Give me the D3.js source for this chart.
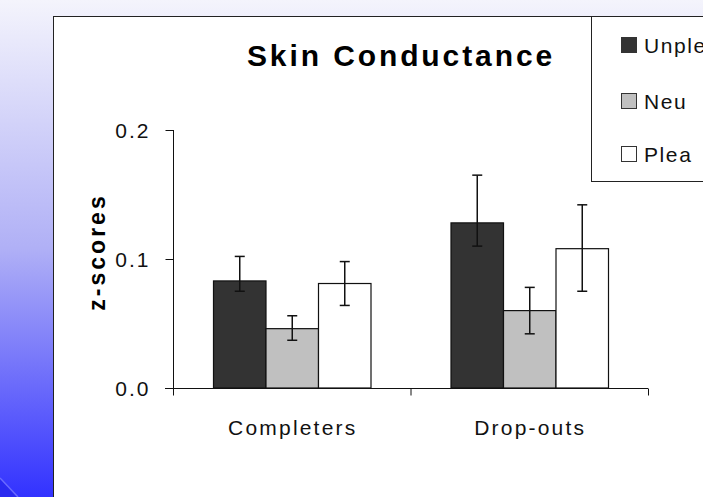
<!DOCTYPE html>
<html><head><meta charset="utf-8">
<script src="https://cdn.jsdelivr.net/npm/d3@7"></script>
<style>html,body{margin:0;padding:0;overflow:hidden;background:#fff}svg{display:block}</style>
</head><body>
<svg id="c" width="703" height="497"></svg>
<script>
const categories = ["Completers", "Drop-outs"];
const seriesNames = ["Unpleasant", "Neu", "Plea"];
const unpleasant = [0.083, 0.128];
const neutral = [0.046, 0.060];
const pleasant = [0.081, 0.108];
const unpleasantLow = [0.075, 0.110];
const unpleasantHigh = [0.102, 0.165];
const neutralLow = [0.037, 0.042];
const neutralHigh = [0.056, 0.078];
const pleasantLow = [0.064, 0.075];
const pleasantHigh = [0.098, 0.142];
const yTicks = [0, 0.1, 0.2];
const title = "Skin Conductance";
const yLabel = "z-scores";

const colors = ["#333333", "#c0c0c0", "#ffffff"];
const values = [unpleasant, neutral, pleasant];
const lows = [unpleasantLow, neutralLow, pleasantLow];
const highs = [unpleasantHigh, neutralHigh, pleasantHigh];

const svg = d3.select("#c");
const font = "'Liberation Sans', Arial, sans-serif";

// background gradient
const defs = svg.append("defs");
const g = defs.append("linearGradient").attr("id", "bg").attr("x1", 0).attr("y1", 0).attr("x2", 0).attr("y2", 1);
g.append("stop").attr("offset", "0%").attr("stop-color", "#f4f4fc");
g.append("stop").attr("offset", "50%").attr("stop-color", "#b0b0f6");
g.append("stop").attr("offset", "100%").attr("stop-color", "#3232ff");
svg.append("rect").attr("width", 703).attr("height", 497).attr("fill", "url(#bg)");
svg.append("path").attr("d", "M0,478 L18,497 L0,497 Z").attr("fill", "#2a2af0");
svg.append("path").attr("d", "M0,478 L18,497").attr("stroke", "#6a6aff").attr("stroke-width", 1.5);

// panel
svg.append("rect").attr("x", 53.5).attr("y", 16.5).attr("width", 700).attr("height", 500)
  .attr("fill", "#fff").attr("stroke", "#222").attr("stroke-width", 1);

const x = d3.scaleBand().domain(categories).range([173, 648]).padding(0);
const xs = d3.scaleBand().domain(seriesNames).range([40, x.bandwidth() - 40]).padding(0);
const y = d3.scaleLinear().domain([0, 0.2]).range([388, 130]);

// title
svg.append("text").attr("x", 401).attr("y", 66).attr("text-anchor", "middle")
  .attr("font-family", font).attr("font-weight", "bold").attr("font-size", 30)
  .style("letter-spacing", "2.9px").text(title);

// y label
svg.append("text").attr("transform", "translate(105,252) rotate(-90)").attr("text-anchor", "middle")
  .attr("font-family", font).attr("font-weight", "bold").attr("font-size", 23)
  .style("letter-spacing", "3px").text(yLabel);

// bars
const groups = svg.append("g").selectAll("g").data(categories).join("g")
  .attr("transform", d => `translate(${x(d)},0)`);
seriesNames.forEach((s, si) => {
  groups.append("rect")
    .attr("x", (d) => xs(s) + 0.5)
    .attr("width", xs.bandwidth())
    .attr("y", (d, i) => y(values[si][i]))
    .attr("height", (d, i) => y(0) - y(values[si][i]))
    .attr("fill", colors[si]).attr("stroke", "#111").attr("stroke-width", 1.2);
});
// error bars
seriesNames.forEach((s, si) => {
  const cx = xs(s) + xs.bandwidth() / 2 + 0.5;
  groups.append("line").attr("x1", cx).attr("x2", cx)
    .attr("y1", (d, i) => y(lows[si][i])).attr("y2", (d, i) => y(highs[si][i]))
    .attr("stroke", "#111").attr("stroke-width", 1.5);
  [lows, highs].forEach(arr => {
    groups.append("line").attr("x1", cx - 5).attr("x2", cx + 5)
      .attr("y1", (d, i) => y(arr[si][i])).attr("y2", (d, i) => y(arr[si][i]))
      .attr("stroke", "#111").attr("stroke-width", 1.5);
  });
});

// y axis
const ya = svg.append("g").attr("transform", "translate(173.5,0)")
  .call(d3.axisLeft(y).tickValues(yTicks).tickFormat(d3.format(".1f")).tickSize(8).tickSizeOuter(0));
ya.select(".domain").attr("d", `M0,${y(0.2)}V395`).attr("stroke", "#111");
ya.selectAll(".tick line").attr("stroke", "#111");
ya.selectAll(".tick text").attr("font-family", font).attr("font-size", 21).attr("fill", "#111")
  .attr("x", -23).attr("dy", "0.36em").style("letter-spacing", "2px");

// x axis
const xa = svg.append("g").attr("transform", "translate(0,388.5)");
xa.append("line").attr("x1", 165).attr("x2", 648).attr("stroke", "#111");
const bounds = [x.range()[0], x(categories[1]), x.range()[1]];
xa.selectAll("line.t").data(bounds).join("line").attr("class", "t")
  .attr("x1", d => d + 0.5).attr("x2", d => d + 0.5).attr("y1", 0).attr("y2", 7).attr("stroke", "#111");
xa.selectAll("text").data(categories).join("text")
  .attr("x", d => x(d) + x.bandwidth() / 2 + 1).attr("y", 46).attr("text-anchor", "middle")
  .attr("font-family", font).attr("font-size", 21).attr("fill", "#111")
  .style("letter-spacing", "2.2px").text(d => d);

// legend
const lg = svg.append("g");
lg.append("rect").attr("x", 591.5).attr("y", 16.5).attr("width", 200).attr("height", 165)
  .attr("fill", "#fff").attr("stroke", "#222");
const ly = [45, 101, 154];
seriesNames.forEach((s, si) => {
  lg.append("rect").attr("x", 621.5).attr("y", ly[si] - 7.5).attr("width", 15).attr("height", 15)
    .attr("fill", colors[si]).attr("stroke", "#333");
  lg.append("text").attr("x", 644).attr("y", ly[si] + 8).attr("font-family", font).attr("font-size", 21)
    .attr("fill", "#111").style("letter-spacing", "1.6px").text(s);
});
</script>
</body></html>
